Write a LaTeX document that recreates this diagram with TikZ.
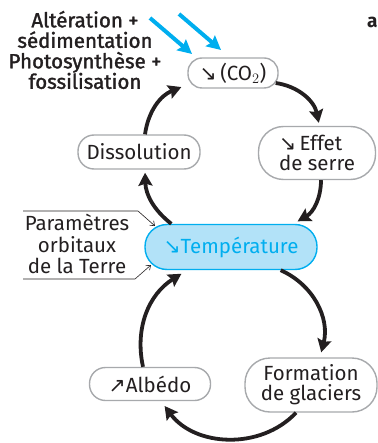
\documentclass[tikz,border=0pt]{standalone}
\usepackage{fontspec}
\setmainfont{Fira Sans}
\newfontfamily\arrowfont{DejaVu Sans}
\newfontfamily\semibold[FakeBold=1.6]{Fira Sans}
\usetikzlibrary{arrows.meta}
\definecolor{ink}{RGB}{35,31,32}
\definecolor{boxgray}{RGB}{167,169,172}
\definecolor{cyanline}{RGB}{0,174,239}
\definecolor{cyanfill}{RGB}{178,226,248}
\newcommand{\dn}{{\arrowfont ↘}}
\newcommand{\up}{{\arrowfont ↗}}
\tikzset{
  capsule/.style={draw=boxgray, line width=1.4pt, fill=white, inner sep=0pt, align=center, font=\fontsize{20.5}{20}\selectfont, text=ink},
  cyc/.style={draw=ink, line width=3.8pt, -{Stealth[length=13pt,width=14pt,inset=2pt]}, shorten >=1pt},
  bluearr/.style={draw=cyanline, line width=4pt, line cap=butt, -{Stealth[length=14pt,width=14pt,inset=2pt]}},
  thinarr/.style={draw=ink, line width=0.6pt, -{Straight Barb[length=4pt,width=6pt]}},
  lbl/.style={align=center, text=ink, inner sep=0pt}
}
\begin{document}
\begin{tikzpicture}[x=1pt,y=-1pt]
\useasboundingbox (0,0) rectangle (377,443);
% nodes
\node[capsule, rounded corners=14pt, minimum width=90pt, minimum height=30pt] (co2) at (233,73) {\dn\,(CO$_2$)};
\node[capsule, rounded corners=25pt, minimum width=117pt, minimum height=53pt, align=left] (effet) at (317,153) {\dn\,Effet\\de serre};
\node[capsule, rounded corners=16pt, minimum width=122pt, minimum height=34pt] (diss) at (139,152) {Dissolution};
\node[capsule, draw=cyanline, fill=cyanfill, text=cyanline, rounded corners=22pt, minimum width=172pt, minimum height=45pt] (temp) at (231,247) {{\arrowfont ↘}Température};
\node[capsule, rounded corners=25pt, minimum width=132pt, minimum height=54pt] (form) at (311,385) {Formation\\de glaciers};
\node[capsule, rounded corners=16pt, minimum width=121pt, minimum height=33pt] (alb) at (150,384) {\up Albédo};
% left labels
\node[lbl, font=\fontsize{20.5}{20.5}\selectfont\semibold] (proc) at (85,50) {Altération +\\sédimentation\\Photosynthèse +\\fossilisation};
\node[lbl, font=\fontsize{20.5}{21.5}\selectfont] (param) at (77,244) {Paramètres\\orbitaux\\de la Terre};
\node[anchor=west, inner sep=0pt, font=\fontsize{19}{20}\selectfont\bfseries, text=ink] (cut) at (367,22) {a};
% cycle arrows
\draw[cyc] ([xshift=-3pt,yshift=-10pt]co2.east) to[bend left=35] ([xshift=2pt,yshift=2pt]effet.north);
\draw[cyc] ([xshift=4pt]effet.south) to[bend left=30] ([xshift=-21pt,yshift=2pt]temp.north east);
\draw[cyc] ([xshift=27pt]temp.north west) to[bend left=25] ([xshift=6pt,yshift=-2pt]diss.south);
\draw[cyc] ([xshift=6pt]diss.north) to[bend left=30] ([xshift=-5pt,yshift=2pt]co2.south west);
\draw[cyc] ([xshift=-37pt]temp.south east) to[bend left=40] ([xshift=10pt,yshift=4pt]form.north);
\draw[cyc] ([xshift=-15pt]form.south) to[bend left=50] ([xshift=14pt,yshift=-4pt]alb.south);
\draw[cyc] ([xshift=-7pt]alb.north) to[bend left=35] ([xshift=38pt,yshift=-3pt]temp.south west);
% orbital parameter pointers
\coordinate (p1a) at (23,211);
\coordinate (p1b) at (138,211);
\coordinate (p1c) at (155,226);
\coordinate (p2a) at (23,279);
\coordinate (p2b) at (135,279);
\coordinate (p2c) at (151,265);
\draw[thinarr] (p1a) -- (p1b) -- (p1c);
\draw[thinarr] (p2a) -- (p2b) -- (p2c);
% blue arrows
\coordinate (b1s) at (150,18);
\coordinate (b1e) at (192,54);
\coordinate (b2s) at (179,14);
\coordinate (b2e) at (221,50);
\draw[bluearr] (b1s) -- (b1e);
\draw[bluearr] (b2s) -- (b2e);
\end{tikzpicture}
\end{document}
